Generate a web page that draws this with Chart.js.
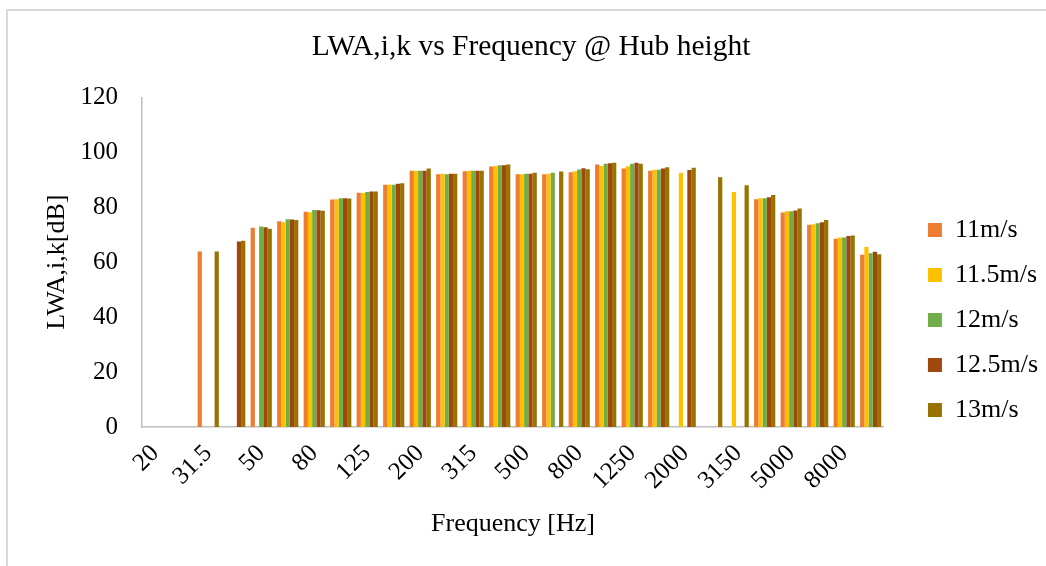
<!DOCTYPE html>
<html>
<head>
<meta charset="utf-8">
<script src="https://cdn.jsdelivr.net/npm/chart.js@4.4.1/dist/chart.umd.min.js"></script>
<style>
  html, body { margin: 0; padding: 0; background: #fff; overflow: hidden; }
  #frame { position: absolute; left: 6px; top: 9px; width: 1100px; height: 620px; border: 2px solid #d9d9d9; }
  #chart { position: absolute; left: 0; top: 0; }
</style>
</head>
<body>
<div id="frame"></div>
<canvas id="chart" width="1046" height="566"></canvas>
<script>
/*global Chart*/
var frequencies = ['20', '25', '31.5', '40', '50', '63', '80', '100', '125', '160', '200', '250', '315', '400',
  '500', '630', '800', '1000', '1250', '1600', '2000', '2500', '3150', '4000', '5000', '6300', '8000', '10000'];

var speed11 = [null, null, 63.9, null, 72.5, 74.9, 78.3, 82.8, 85.3, 88.2, 93.3, 92.0, 93.1, 94.8,
  92.0, 92.0, 92.7, 95.5, 94.1, 93.3, null, null, null, 82.9, 78.1, 73.6, 68.5, 62.7];
var speed115 = [null, null, null, null, null, 74.5, 78.2, 82.9, 85.2, 88.2, 93.3, 92.2, 93.3, 95.0,
  92.0, 92.2, 93.1, 95.0, 94.9, 93.6, 92.5, null, 85.5, 83.3, 78.5, 73.8, 69.0, 65.5];
var speed12 = [null, null, null, null, 73.0, 75.6, 79.0, 83.3, 85.5, 88.2, 93.3, 92.0, 93.3, 95.3,
  92.2, 92.5, 93.7, 95.8, 95.8, 93.6, null, null, null, 83.3, 78.5, 74.2, 69.0, 63.2];
var speed125 = [null, null, null, 67.5, 72.7, 75.5, 78.9, 83.3, 85.7, 88.5, 93.3, 92.2, 93.3, 95.3,
  92.2, null, 94.2, 96.0, 96.2, 94.1, 93.5, null, null, 83.6, 78.8, 74.5, 69.5, 63.8];
var speed13 = [null, null, 63.9, 67.8, 72.2, 75.3, 78.7, 83.2, 85.7, 88.7, 94.1, 92.2, 93.3, 95.5,
  92.5, 93.0, 93.8, 96.2, 95.8, 94.5, 94.4, 90.9, 88.0, 84.4, 79.5, 75.3, 69.7, 62.9];

var seriesNames = ['11m/s', '11.5m/s', '12m/s', '12.5m/s', '13m/s'];
var seriesColors = ['#ED7D31', '#FFC000', '#70AD47', '#9E480E', '#997300'];
var seriesValues = [speed11, speed115, speed12, speed125, speed13];

Chart.defaults.font.family = "'Liberation Serif', 'Times New Roman', serif";
Chart.defaults.color = '#000';

// move the legend column further right, Excel keeps a gap after the plot
var legendNudge = {
  id: 'legendNudge',
  afterLayout: function(chart) {
    var legend = chart.legend;
    legend.left += 25;
    legend.right += 25;
    legend.top = 97;
    legend.bottom = 543;
  }
};

var datasets = seriesNames.map(function(name, i) {
  return {
    label: name,
    data: seriesValues[i],
    backgroundColor: seriesColors[i],
    borderWidth: 0,
    categoryPercentage: 0.8,
    barPercentage: 1.0
  };
});

var ctx = document.getElementById('chart').getContext('2d');
new Chart(ctx, {
  type: 'bar',
  data: { labels: frequencies, datasets: datasets },
  plugins: [legendNudge],
  options: {
    responsive: false,
    animation: false,
    devicePixelRatio: 1,
    layout: { padding: { left: 39, right: 23, top: 0, bottom: 0 } },
    plugins: {
      title: {
        display: true,
        text: 'LWA,i,k vs Frequency @ Hub height',
        font: { size: 29.5, weight: 'normal' },
        color: '#000',
        padding: { top: 29.3, bottom: 32.6 }
      },
      legend: {
        display: true,
        position: 'right',
        labels: {
          font: { size: 26 },
          color: '#000',
          boxWidth: 14,
          boxHeight: 14,
          padding: 19
        }
      },
      tooltip: { enabled: false }
    },
    scales: {
      x: {
        grid: { display: false },
        border: { display: true, color: '#bfbfbf', width: 1.5 },
        ticks: {
          autoSkip: false,
          maxRotation: 45,
          minRotation: 45,
          padding: 4,
          font: { size: 25 },
          color: '#000',
          callback: function(value, index) {
            return index % 2 === 0 ? this.getLabelForValue(value) : '';
          }
        },
        title: {
          display: true,
          text: 'Frequency [Hz]',
          font: { size: 26 },
          color: '#000',
          padding: { top: 0, bottom: 26.4 }
        },
        afterFit: function(axis) { axis.height = 139; }
      },
      y: {
        min: 0,
        max: 120,
        grid: { display: false },
        border: { display: true, color: '#bfbfbf', width: 1.5 },
        ticks: {
          stepSize: 20,
          padding: 16,
          font: { size: 25 },
          color: '#000'
        },
        title: {
          display: true,
          text: 'LWA,i,k[dB]',
          font: { size: 26 },
          color: '#000',
          padding: { top: 3, bottom: 0 }
        },
        afterFit: function(axis) { axis.width = 103; }
      }
    }
  }
});
</script>
</body>
</html>
